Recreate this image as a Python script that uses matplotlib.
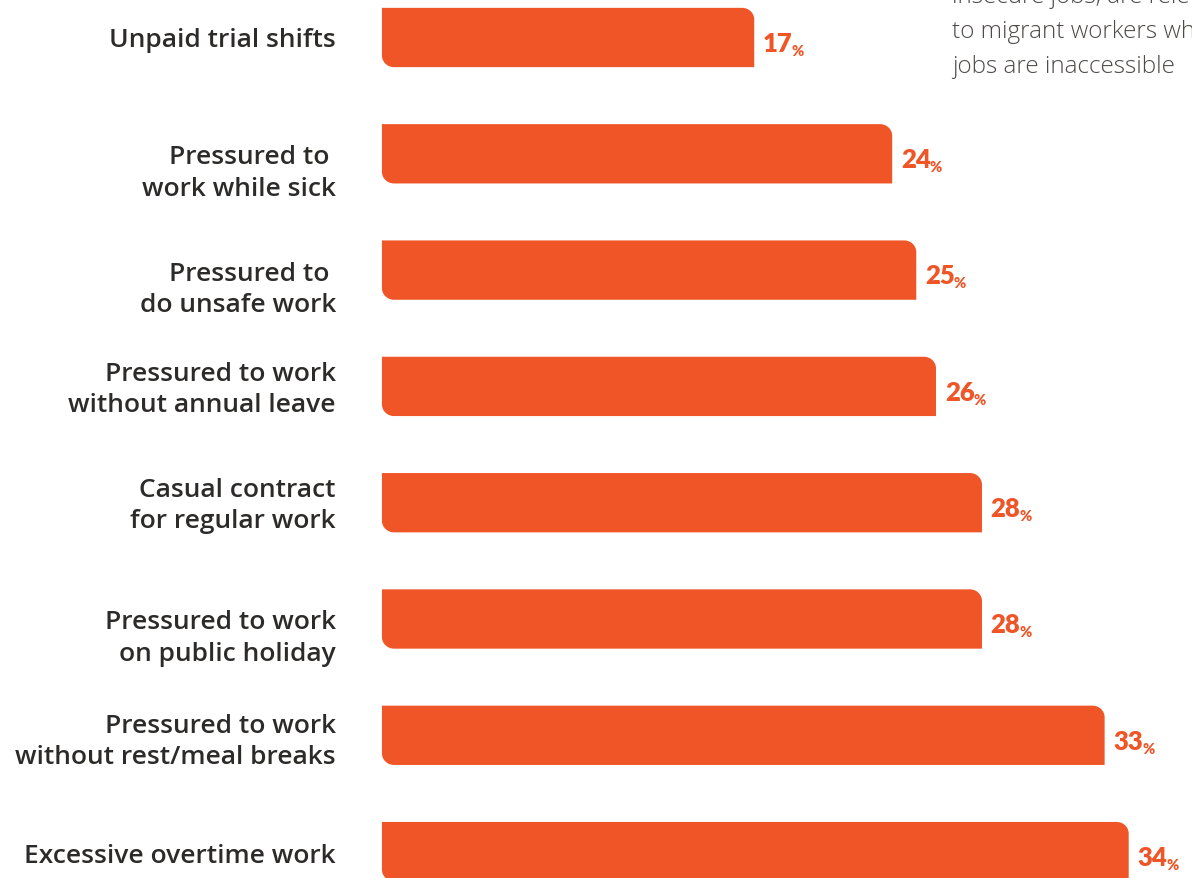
import numpy as np
import matplotlib.pyplot as plt
from matplotlib.path import Path
from matplotlib.patches import PathPatch

categories = [
    'Unpaid trial shifts',
    'Pressured to \nwork while sick',
    'Pressured to \ndo unsafe work',
    'Pressured to work\nwithout annual leave',
    'Casual contract\nfor regular work',
    'Pressured to work\non public holiday',
    'Pressured to work\nwithout rest/meal breaks',
    'Excessive overtime work',
]
values = [17.0, 23.3, 24.4, 25.3, 27.4, 27.4, 33.0, 34.1]
value_labels = ['17', '24', '25', '26', '28', '28', '33', '34']

note_lines = ['insecure jobs, are rele', 'to migrant workers who', 'jobs are inaccessible']

orange = '#ef5527'
dark = '#2d2b29'

# category labels do not sit exactly on the bar centres in the original
label_dy = [0.02, 0.16, 0.16, 0.02, 0.02, 0.16, 0.05, 0.03]

plt.rcParams['font.family'] = ['Open Sans', 'DejaVu Sans']

fig = plt.figure(figsize=(11.92, 8.79), dpi=100)
ax = fig.add_axes([0, 0, 1, 1])
ax.set_xlim(-17.44, 36.99)
ax.set_ylim(7.227, -0.331)
ax.axis('off')

bar_h = 0.51
rx, ry = 0.55, 0.10  # corner radius in data units (~12px)
k = 0.5523


def bar_path(x0, x1, yt, yb):
    # top-right and bottom-left corners rounded (y axis is inverted: yt < yb)
    verts = [
        (x0, yt),
        (x1 - rx, yt),
        (x1 - rx + k * rx, yt), (x1, yt + ry - k * ry), (x1, yt + ry),
        (x1, yb),
        (x0 + rx, yb),
        (x0 + rx - k * rx, yb), (x0, yb - ry + k * ry), (x0, yb - ry),
        (x0, yt),
    ]
    codes = [Path.MOVETO, Path.LINETO,
             Path.CURVE4, Path.CURVE4, Path.CURVE4,
             Path.LINETO, Path.LINETO,
             Path.CURVE4, Path.CURVE4, Path.CURVE4,
             Path.CLOSEPOLY]
    return Path(verts, codes)


for i, (cat, v, lab) in enumerate(zip(categories, values, value_labels)):
    p = bar_path(0, v, i - bar_h / 2, i + bar_h / 2)
    ax.add_patch(PathPatch(p, facecolor=orange, edgecolor='none'))
    ax.text(-2.1, i + label_dy[i], cat, ha='right', va='center', fontsize=19,
            fontweight='semibold', color=dark, linespacing=1.33)
    t = ax.text(v + 0.40, i + 0.115, lab, ha='left', va='baseline', fontsize=18.5,
                fontweight='heavy', color=orange, family=['Lato', 'DejaVu Sans'])
    ax.annotate('%', xy=(1, 0), xycoords=t, xytext=(-0.6, 0), textcoords='offset points',
                ha='left', va='baseline', fontsize=10.5, fontweight='heavy', color=orange,
                family=['Lato', 'DejaVu Sans'])

for j, line in enumerate(note_lines):
    fig.text(952 / 1192, 1 - (-3 + 35 * j) / 879, line, ha='left', va='center',
             fontsize=17.5, color='#4d4a48', fontweight='light')

fig.savefig('out.png', dpi=100)
